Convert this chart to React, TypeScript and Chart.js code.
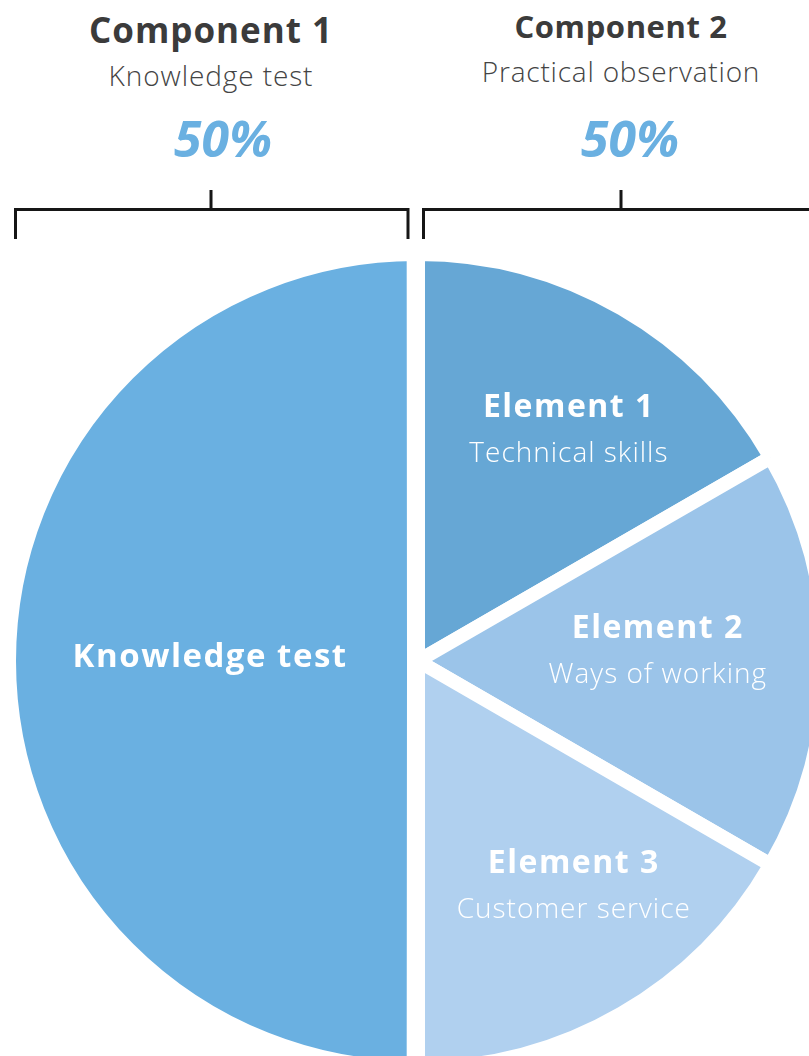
import React, { useEffect, useRef } from "react";
import { Chart, registerables } from "chart.js";

Chart.register(...registerables);

// ---- data ----
const sliceNames = ["Element 1", "Element 2", "Element 3", "Knowledge test"];
const sliceDescriptions = ["Technical skills", "Ways of working", "Customer service", ""];
const sliceValues = [16.67, 16.67, 16.66, 50];

const componentTitles = ["Component 1", "Component 2"];
const componentSubtitles = ["Knowledge test", "Practical observation"];
const componentShares = ["50%", "50%"];

// ---- styles / layout ----
const sliceColors = ["#66A7D5", "#9BC4E9", "#B0D0EF", "#6AB0E1"];
const sliceOffsets = [0, 0, 0, 8];
const sliceBorders = [14, 14, 14, 18];
const labelRadii = [277, 240, 273, 208];
const labelAngleShift = [3, -2.6, -4.8, 1.9];

const FONT = "'Open Sans', 'Noto Sans', sans-serif";
const PAGE_W = 809;
const PAGE_H = 1056;
const CX = 418;
const CY = 661;
const RADIUS = 407;
const CANVAS = 2 * RADIUS + 26;

const headerLayout = [
  { cx: 211, titleSize: 35, titleTop: 11.9, titleSpacing: 1, subSize: 28, subTop: 61.1, subSpacing: 0.9, shareDx: 12 },
  { cx: 621, titleSize: 31, titleTop: 10.5, titleSpacing: 0.6, subSize: 28, subTop: 57.1, subSpacing: 0.8, shareDx: 9 },
];

const labelPlugin = {
  id: "sliceLabels",
  afterDatasetsDraw(chart: any) {
    const ctx = chart.ctx as CanvasRenderingContext2D;
    const meta = chart.getDatasetMeta(0);
    ctx.save();
    ctx.fillStyle = "#ffffff";
    ctx.textAlign = "center";
    ctx.textBaseline = "alphabetic";
    meta.data.forEach((arc: any, i: number) => {
      const p = arc.getProps(["x", "y", "startAngle", "endAngle"], true);
      const mid = (p.startAngle + p.endAngle) / 2 + (labelAngleShift[i] * Math.PI) / 180;
      const px = p.x + labelRadii[i] * Math.cos(mid);
      const py = p.y + labelRadii[i] * Math.sin(mid);
      if (sliceDescriptions[i]) {
        ctx.font = `700 32px ${FONT}`;
        (ctx as any).letterSpacing = "1.5px";
        ctx.fillText(sliceNames[i], px, py - 12);
        ctx.font = `300 28px ${FONT}`;
        (ctx as any).letterSpacing = "1px";
        ctx.fillText(sliceDescriptions[i], px, py + 33);
      } else {
        ctx.font = `700 33px ${FONT}`;
        (ctx as any).letterSpacing = "1.5px";
        ctx.fillText(sliceNames[i], px, py + 13);
      }
    });
    ctx.restore();
  },
};

export default function App() {
  const canvasRef = useRef<HTMLCanvasElement | null>(null);

  useEffect(() => {
    const canvas = canvasRef.current;
    if (!canvas) return;
    const chart = new Chart(canvas, {
      type: "pie",
      data: {
        labels: sliceNames,
        datasets: [
          {
            data: sliceValues,
            backgroundColor: sliceColors,
            borderColor: "#ffffff",
            borderWidth: sliceBorders,
            borderAlign: "center",
            offset: sliceOffsets,
            hoverOffset: 0,
          } as any,
        ],
      },
      options: {
        responsive: false,
        maintainAspectRatio: false,
        animation: false,
        devicePixelRatio: 1,
        radius: RADIUS,
        events: [],
        layout: { padding: 0 },
        plugins: {
          legend: { display: false },
          tooltip: { enabled: false },
        },
      } as any,
      plugins: [labelPlugin],
    });
    return () => chart.destroy();
  }, []);

  return (
    <div
      style={{
        position: "fixed",
        left: 0,
        top: 0,
        width: PAGE_W,
        height: PAGE_H,
        overflow: "hidden",
        background: "#ffffff",
        fontFamily: FONT,
      }}
    >
      <canvas
        ref={canvasRef}
        width={CANVAS}
        height={CANVAS}
        style={{
          position: "absolute",
          left: CX - CANVAS / 2,
          top: CY - CANVAS / 2,
          width: CANVAS,
          height: CANVAS,
        }}
      />
      {headerLayout.map((h, i) => (
        <React.Fragment key={i}>
          <div
            style={{
              position: "absolute",
              left: h.cx,
              top: h.titleTop,
              transform: "translateX(-50%)",
              whiteSpace: "nowrap",
              lineHeight: 1,
              fontSize: h.titleSize,
              fontWeight: 700,
              letterSpacing: `${h.titleSpacing}px`,
              color: "#3b3b3b",
            }}
          >
            {componentTitles[i]}
          </div>
          <div
            style={{
              position: "absolute",
              left: h.cx,
              top: h.subTop,
              transform: "translateX(-50%)",
              whiteSpace: "nowrap",
              lineHeight: 1,
              fontSize: h.subSize,
              fontWeight: 300,
              letterSpacing: `${h.subSpacing}px`,
              color: "#444444",
            }}
          >
            {componentSubtitles[i]}
          </div>
          <div
            style={{
              position: "absolute",
              left: h.cx + h.shareDx,
              top: 112.5,
              transform: "translateX(-50%)",
              whiteSpace: "nowrap",
              lineHeight: 1,
              fontSize: 50,
              fontWeight: 700,
              fontStyle: "italic",
              color: "#6AB0E1",
            }}
          >
            {componentShares[i]}
          </div>
        </React.Fragment>
      ))}
      <svg
        width={PAGE_W}
        height={260}
        style={{ position: "absolute", left: 0, top: 0 }}
      >
        <path
          d="M15.5 239 V209.5 H408 V239 M211 209.5 V190"
          fill="none"
          stroke="#161616"
          strokeWidth={3}
        />
        <path
          d="M423.5 239 V209.5 H830 M621 209.5 V190"
          fill="none"
          stroke="#161616"
          strokeWidth={3}
        />
      </svg>
    </div>
  );
}
